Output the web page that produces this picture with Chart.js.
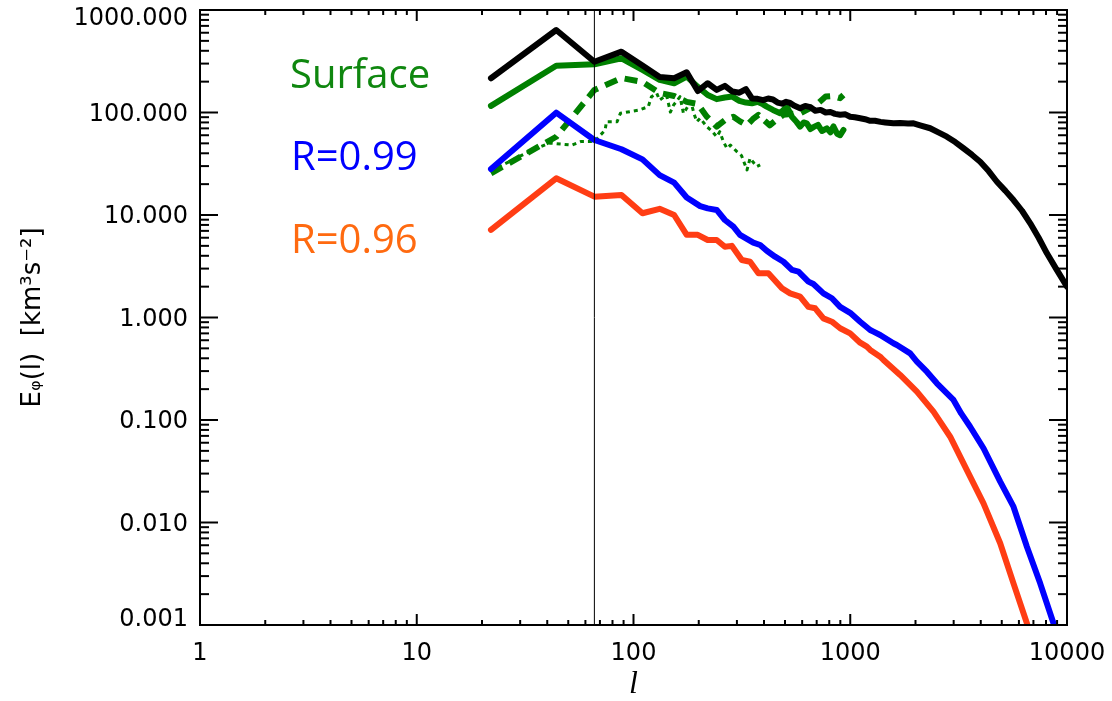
<!DOCTYPE html>
<html>
<head>
<meta charset="utf-8">
<script src="https://cdn.jsdelivr.net/npm/chart.js@4.4.1/dist/chart.umd.min.js"></script>
<style>
html,body{margin:0;padding:0;background:#ffffff;}
#wrap{width:1112px;height:701px;position:relative;}
</style>
</head>
<body>
<div id="wrap"><canvas id="c"></canvas></div>
<script>
// ---------------- data ----------------
const xTickValues = [1, 10, 100, 1000, 10000];
const yTickValues = [0.001, 0.01, 0.1, 1, 10, 100, 1000];

const blackL = [22,44,66,88,110,132,154,176,198,220,242,264,286,308,330,352,374,396,418,440,462,484,506,528,550,587,620,653,690,730,770,810,850,898,950,999,1050,1111,1170,1236,1300,1380,1450,1583,1700,1850,1958,2100,2337,2550,2790,3050,3329,3650,3976,4350,4750,5200,5665,6200,6766,7400,8078,8900,10000];
const blackE = [216,638,313,392,288,222,216,247,162,193,166,182,160,156,169,137,136,132,137,134,125,122,127,124,117,110,116,113,104,106,100,101,97,95,96,91,90,88,86,83,83,81,80,78.5,79,78,78.5,75,70.2,64,58.1,51.5,44.8,38.5,33.1,26.8,21.1,17.2,14.0,11.0,8.3,6.0,4.23,3.0,2.0];

const greenL = [22,44,66,88,110,132,154,176,198,220,242,264,286,308,330,352,374,396,412,440,475,510,538,565,587,610,630,655,676,710,740,780,810,837,870,898,930];
const greenE = [116,286,295,338,260,208,193,224,178,148,135,140,143,130,125,123,127,120,114,106,98.5,114,91,81,72.8,80,78.5,69,72,75.7,66,70,64,73,62,60,67.5];

const greenDashL = [22,44,66,88,110,132,154,176,198,218,242,264,289,310,334,355,377,400,425,460,492,540,587,650,710,770,830,898,930];
const greenDashE = [25.5,58,166,217,199,155,145,127,121,91,73,84,91,82,75,86,95,84,75,86,95,97,98,110,123,143,145,138,148];

const greenDotL = [22,33,41,52,57,66,74,75,84,87,96,106,117,121,128,132,142,148,153,164,170,176,184,190,196,203,218,230,242,250,260,270,280,300,315,334,345,360,371,384];
const greenDotE = [27,41.5,50.4,48.1,52,52,67.5,81.3,81.3,98.2,101.8,105.7,113.9,142.6,154,132,148,101,118,142.6,98,110,127.5,98,81.3,88,72.7,66,58,65,51.9,44.6,48,41.5,38,27.5,35.8,32,29.7,30.8];

const blueL = [22,44,66,88,110,132,154,176,203,220,242,264,289,310,357,384,412,450,492,538,577,641,676,752,823,898,999,1111,1236,1280,1374,1582,1641,1890,2030,2257,2510,2994,3249,3575,4119,4918,5664,6531,7521,8663,9000];
const blueE = [28.1,99.6,53.9,43.8,34.9,24.5,20.7,14.8,12.2,11.6,11.2,8.94,7.69,6.4,5.37,5.10,4.48,3.92,3.50,2.91,2.80,2.24,2.12,1.72,1.54,1.27,1.11,0.91,0.755,0.727,0.675,0.560,0.539,0.447,0.371,0.296,0.228,0.157,0.116,0.086,0.053,0.025,0.01426,0.0058,0.00255,0.00104,0.0008];

const redL = [22,44,66,88,110,132,154,176,198,220,242,264,284,316,345,377,419,484,528,587,641,689,752,823,898,999,1111,1193,1236,1374,1423,1699,2030,2421,2891,3452,4119,4918,5664,6531,6800];
const redE = [7.15,22.8,15.1,15.7,10.4,11.5,10.0,6.4,6.4,5.7,5.7,4.9,5.0,3.64,3.50,2.70,2.70,1.93,1.72,1.60,1.27,1.23,0.98,0.91,0.785,0.70,0.568,0.519,0.482,0.415,0.385,0.275,0.189,0.1205,0.0687,0.0325,0.01538,0.00627,0.00255,0.00104,0.0008];

const markerL = [66, 66];
const markerE = [0.001, 1000];

const labelTexts = ['Surface', 'R=0.99', 'R=0.96'];

// ---------------- styles / layout ----------------
const COL = {black:'#000000', green:'#008000', blue:'#0000ff', red:'#ff3d14'};
const LABEL_COLORS = ['#0f870f', '#0000ff', '#ff6a10'];
const LABEL_POS = [[290, 88], [291, 170], [291, 253]];
const AREA = {left:200, right:1067, top:10, bottom:625, W:1112, H:701};

function pts(L, E){ return L.map((l, i) => ({x:l, y:E[i]})); }
function ds(label, L, E, color, width, dash){
  return {label, data: pts(L, E), borderColor: color, backgroundColor: color,
    borderWidth: width, borderDash: dash || [], pointRadius: 0, tension: 0,
    fill: false, borderJoinStyle: 'round', borderCapStyle: dash ? 'butt' : 'round'};
}
function noPad(s){ s.paddingTop = 0; s.paddingBottom = 0; s.paddingLeft = 0; s.paddingRight = 0; }

const axisBox = {
  id: 'axisBox',
  afterDraw(chart){
    const {ctx, chartArea: a, scales: {x, y}} = chart;
    ctx.save();
    ctx.strokeStyle = '#000'; ctx.lineWidth = 2;
    ctx.strokeRect(a.left, a.top, a.right - a.left, a.bottom - a.top);
    const seg = (x1, y1, x2, y2) => { ctx.beginPath(); ctx.moveTo(x1, y1); ctx.lineTo(x2, y2); ctx.stroke(); };
    for (let d = 0; d < 4; d++) for (let m = 1; m < 10; m++) {
      const px = x.getPixelForValue(Math.pow(10, d) * m);
      const len = m === 1 ? 11 : 5;
      seg(px, a.bottom, px, a.bottom - len);
      seg(px, a.top, px, a.top + len);
    }
    for (let d = -3; d < 3; d++) for (let m = 1; m < 10; m++) {
      const py = y.getPixelForValue(Math.pow(10, d) * m);
      const len = m === 1 ? 18 : 9;
      seg(a.left, py, a.left + len, py);
      seg(a.right, py, a.right - len, py);
    }
    ctx.restore();
  }
};

const textLabels = {
  id: 'textLabels',
  afterDraw(chart){
    const ctx = chart.ctx;
    ctx.save();
    ctx.font = '40px "Open Sans"';
    ctx.textAlign = 'left';
    ctx.textBaseline = 'alphabetic';
    labelTexts.forEach((t, i) => {
      ctx.fillStyle = LABEL_COLORS[i];
      ctx.fillText(t, LABEL_POS[i][0], LABEL_POS[i][1]);
    });
    ctx.restore();
  }
};

new Chart(document.getElementById('c'), {
  type: 'line',
  data: {
    datasets: [
      ds('marker', markerL, markerE, COL.black, 1),
      ds('black', blackL, blackE, COL.black, 6),
      ds('Surface', greenL, greenE, COL.green, 6),
      ds('R=0.99', blueL, blueE, COL.blue, 6),
      ds('R=0.96', redL, redE, COL.red, 6),
      ds('green dashed', greenDashL, greenDashE, COL.green, 6, [13, 8]),
      ds('green dotted', greenDotL, greenDotE, COL.green, 3, [4, 4])
    ]
  },
  options: {
    responsive: true,
    maintainAspectRatio: false,
    devicePixelRatio: 1,
    animation: false,
    events: [],
    layout: {padding: {top: AREA.top, right: AREA.W - AREA.right, left: 0, bottom: 0}},
    plugins: {legend: {display: false}, tooltip: {enabled: false}},
    scales: {
      x: {
        type: 'logarithmic', min: 1, max: 10000, position: 'bottom',
        grid: {display: false, drawTicks: false},
        border: {display: false},
        afterBuildTicks: s => { s.ticks = xTickValues.map(v => ({value: v})); },
        afterFit: s => { s.height = AREA.H - AREA.bottom; noPad(s); },
        ticks: {autoSkip: false, maxRotation: 0, padding: 14, color: '#000',
          font: {family: '"DejaVu Sans"', size: 24},
          callback: v => String(v)},
        title: {display: true, text: 'l', color: '#000',
          font: {family: '"Liberation Serif"', style: 'italic', size: 32, lineHeight: 1},
          padding: {top: 0, bottom: 0}}
      },
      y: {
        type: 'logarithmic', min: 0.001, max: 1000, position: 'left',
        grid: {display: false, drawTicks: false},
        border: {display: false},
        afterBuildTicks: s => { s.ticks = yTickValues.map(v => ({value: v})); },
        afterFit: s => { s.width = AREA.left; noPad(s); },
        ticks: {autoSkip: false, padding: 12, labelOffset: 2, color: '#000',
          font: {family: '"DejaVu Sans"', size: 24, lineHeight: 0.6},
          callback: (v, i, t) => {
            const s = Number(v).toFixed(3);
            if (i === t.length - 1) return ['', s];
            if (i === 0) return [s, ''];
            return s;
          }},
        title: {display: true, text: 'Eᵩ(l)  [km³s⁻²]', color: '#000',
          font: {family: '"DejaVu Sans"', size: 26, lineHeight: 1},
          padding: {top: 20, bottom: 0}}
      }
    }
  },
  plugins: [axisBox, textLabels]
});
</script>
</body>
</html>
